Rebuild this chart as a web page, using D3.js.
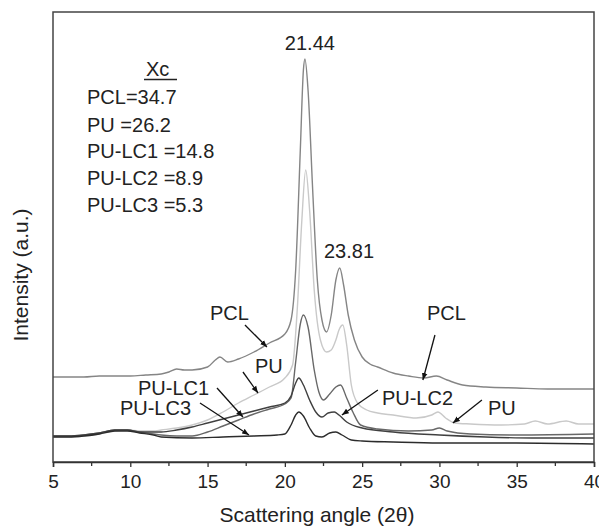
<!DOCTYPE html>
<html lang="en">

<head>
    <meta charset="UTF-8" />
    <title>XRD patterns</title>
    <script src="https://cdnjs.cloudflare.com/ajax/libs/d3/7.8.5/d3.min.js"></script>
    <style>
        body {
            margin: 0;
            padding: 0;
            background: #fff;
            font-family: 'Liberation Sans', Arial, sans-serif;
        }

        text {
            fill: #222;
        }
    </style>
</head>

<body>
    <svg id="chart" width="599" height="527"></svg>

    <script>
        // 2theta (deg) vs intensity (a.u.)
        const pcl = [[5, 85], [6, 85], [7, 85], [8, 86], [9, 86], [10, 86], [11, 87], [12, 88], [12.5, 90], [13, 93], [13.5, 92],
        [14, 92], [15, 95], [15.5, 102], [15.8, 105], [16.3, 100], [17, 103], [18, 110], [19, 119], [20, 128], [20.4, 142],
        [20.7, 192], [21.0, 312], [21.2, 392], [21.3, 403], [21.5, 372], [21.8, 272], [22.1, 182], [22.4, 142], [22.7, 130],
        [23.0, 147], [23.3, 182], [23.55, 194], [23.8, 177], [24.1, 147], [24.5, 122], [25, 105], [25.5, 98], [26, 95],
        [27, 89], [28, 86], [29, 84], [29.8, 86], [30.5, 82], [31.5, 77], [33, 75], [35, 74], [37, 73], [40, 73]];

        const pu = [[5, 25], [6, 25], [7, 26], [8, 28], [9, 31], [9.8, 32], [10.6, 31], [11.5, 31], [12, 32], [13, 34], [14, 37],
        [15, 42], [16, 50], [17, 59], [18, 67], [19, 75], [20, 84], [20.5, 97], [20.8, 152], [21.1, 242], [21.35, 292],
        [21.6, 252], [21.9, 172], [22.3, 122], [22.7, 110], [23.0, 112], [23.3, 122], [23.5, 132], [23.75, 137], [24.0, 117],
        [24.3, 77], [24.7, 59], [25.3, 52], [26, 49], [27, 47], [28.5, 44], [29.5, 47], [29.9, 50], [30.4, 44], [31, 39],
        [32, 38], [34, 37], [35.5, 38], [36.2, 41], [37, 38], [38.2, 41], [39, 38], [40, 38]];

        const puLc1 = [[5, 26], [6, 26], [7, 27], [8, 29], [9, 32], [9.8, 32], [10.6, 30], [11.5, 28], [12, 27], [13, 26], [14, 26],
        [15, 30], [16, 36], [17, 42], [18, 48], [19, 53], [20, 58], [20.4, 64], [20.7, 100], [21.0, 138], [21.2, 147],
        [21.5, 135], [21.9, 92], [22.2, 70], [22.5, 62], [22.9, 68], [23.3, 75], [23.6, 77], [24.0, 64], [24.4, 50],
        [24.9, 37], [26, 33], [28, 31], [29.5, 32], [30, 34], [30.5, 31], [32, 28], [35, 27], [40, 28]];

        const puLc2 = [[5, 26], [6, 26], [7, 27], [8, 29], [9, 32], [9.8, 32], [10.6, 30], [11.5, 30], [12, 30], [13, 32], [14, 35],
        [15, 39], [16, 43], [17, 47], [18, 51], [19, 55], [20, 59], [20.4, 66], [20.7, 79], [20.9, 84], [21.2, 77], [21.6, 62],
        [22.0, 50], [22.4, 45], [22.8, 49], [23.2, 50], [23.5, 47], [24.0, 40], [25, 34], [27, 30], [30, 27], [33, 25],
        [36, 24], [40, 24]];

        const puLc3 = [[5, 25], [6, 25], [7, 26], [8, 28], [9, 31], [9.8, 31], [10.6, 29], [11.5, 27], [12, 25], [14, 24], [16, 25],
        [18, 26], [19.5, 27], [20.0, 28], [20.4, 37], [20.7, 47], [20.9, 50], [21.2, 46], [21.6, 34], [22.0, 26], [22.4, 25],
        [22.9, 29], [23.3, 30], [23.7, 27], [24.3, 22], [25, 21], [27, 20], [30, 19], [35, 19], [40, 18]];

        const seriesNames = ["PU", "PCL", "PU-LC1", "PU-LC2", "PU-LC3"];
        const seriesData = [pu, pcl, puLc1, puLc2, puLc3];
        const seriesColors = ["#c9c9c9", "#858585", "#686868", "#404040", "#2c2c2c"];

        const xTicks = [5, 10, 15, 20, 25, 30, 35, 40];
        const xMinorTicks = [7.5, 12.5, 17.5, 22.5, 27.5, 32.5, 37.5];

        // crystallinity table
        const xcLabels = ["PCL=34.7", "PU =26.2", "PU-LC1 =14.8", "PU-LC2 =8.9", "PU-LC3 =5.3"];

        // peak labels [2theta, intensity, text]
        const peakLabels = [[21.62, 412, "21.44"], [24.15, 204, "23.81"]];

        // curve labels: [text x, text y, arrow from x, from y, arrow to x, to y, text]
        const curveLabels = [
            [15.16, 142, 17.42, 137, 18.84, 115, "PCL"],
            [18.07, 89, 17.29, 90, 18.26, 69, "PU"],
            [10.5, 67, 15.61, 74, 17.29, 45, "PU-LC1"],
            [9.33, 47, 14.51, 59, 17.68, 27, "PU-LC3"],
            [29.19, 142, 29.71, 127, 28.93, 82, "PCL"],
            [26.28, 57, 26.02, 72, 23.69, 47, "PU-LC2"],
            [33.14, 47, 32.75, 62, 30.87, 39, "PU"]
        ];

        const svg = d3.select("#chart");
        const margin = { left: 53, top: 12, right: 5, bottom: 65 };
        const width = 599 - margin.left - margin.right;
        const height = 527 - margin.top - margin.bottom;

        const x = d3.scaleLinear().domain([5, 40]).range([margin.left, margin.left + width]);
        const y = d3.scaleLinear().domain([0, 450]).range([margin.top + height, margin.top]);

        svg.append("defs").append("clipPath")
            .attr("id", "clip")
            .append("rect")
            .attr("x", margin.left)
            .attr("y", margin.top)
            .attr("width", width)
            .attr("height", height);

        svg.append("defs").append("marker")
            .attr("id", "arrow")
            .attr("viewBox", "0 -5 10 10")
            .attr("refX", 10)
            .attr("refY", 0)
            .attr("markerWidth", 7)
            .attr("markerHeight", 7)
            .attr("markerUnits", "userSpaceOnUse")
            .attr("orient", "auto")
            .append("path")
            .attr("d", "M0,-4L10,0L0,4Z")
            .attr("fill", "#111");

        const line = d3.line()
            .x(d => x(d[0]))
            .y(d => y(d[1]))
            .curve(d3.curveMonotoneX);

        svg.append("g")
            .attr("clip-path", "url(#clip)")
            .selectAll("path")
            .data(seriesData)
            .join("path")
            .attr("d", line)
            .attr("fill", "none")
            .attr("stroke", (d, i) => seriesColors[i])
            .attr("stroke-width", 1.4);

        // frame
        svg.append("rect")
            .attr("x", margin.left)
            .attr("y", margin.top)
            .attr("width", width)
            .attr("height", height)
            .attr("fill", "none")
            .attr("stroke", "#444")
            .attr("stroke-width", 1.5);

        // x axis
        const xAxis = svg.append("g")
            .attr("transform", `translate(0,${margin.top + height})`)
            .call(d3.axisBottom(x).tickValues(xTicks).tickSize(5).tickPadding(8).tickFormat(d3.format("d")));
        xAxis.select(".domain").attr("stroke", "#333").attr("stroke-width", 1.5);
        xAxis.selectAll(".tick line").attr("stroke", "#333").attr("stroke-width", 1.3);
        xAxis.selectAll(".tick text")
            .attr("font-family", "'Liberation Sans', Arial, sans-serif")
            .attr("font-size", 19)
            .attr("fill", "#222");

        svg.append("g")
            .selectAll("line")
            .data(xMinorTicks)
            .join("line")
            .attr("x1", d => x(d))
            .attr("x2", d => x(d))
            .attr("y1", margin.top + height)
            .attr("y2", margin.top + height + 4)
            .attr("stroke", "#333")
            .attr("stroke-width", 1.3);

        svg.append("text")
            .attr("x", 317)
            .attr("y", 522)
            .attr("text-anchor", "middle")
            .attr("font-size", 21)
            .text("Scattering angle (2θ)");

        svg.append("text")
            .attr("transform", "rotate(-90)")
            .attr("x", -275)
            .attr("y", 28)
            .attr("text-anchor", "middle")
            .attr("font-size", 21)
            .text("Intensity (a.u.)");

        // Xc table
        svg.append("text")
            .attr("x", 146)
            .attr("y", 76)
            .attr("font-size", 20)
            .text("Xc");
        svg.append("line")
            .attr("x1", 144)
            .attr("x2", 177)
            .attr("y1", 79.5)
            .attr("y2", 79.5)
            .attr("stroke", "#222")
            .attr("stroke-width", 1.3);

        const rowY = [104, 132, 158, 185, 212];
        svg.append("g")
            .selectAll("text")
            .data(xcLabels)
            .join("text")
            .attr("x", 87)
            .attr("y", (d, i) => rowY[i])
            .attr("font-size", 20)
            .text(d => d);

        svg.append("g")
            .selectAll("text")
            .data(peakLabels)
            .join("text")
            .attr("x", d => x(d[0]))
            .attr("y", d => y(d[1]))
            .attr("text-anchor", "middle")
            .attr("font-size", 20)
            .text(d => d[2]);

        const ann = svg.append("g");
        ann.selectAll("text")
            .data(curveLabels)
            .join("text")
            .attr("x", d => x(d[0]))
            .attr("y", d => y(d[1]))
            .attr("font-size", 20)
            .text(d => d[6]);

        ann.selectAll("line")
            .data(curveLabels)
            .join("line")
            .attr("x1", d => x(d[2]))
            .attr("y1", d => y(d[3]))
            .attr("x2", d => x(d[4]))
            .attr("y2", d => y(d[5]))
            .attr("stroke", "#111")
            .attr("stroke-width", 1.3)
            .attr("marker-end", "url(#arrow)");
    </script>
</body>

</html>
